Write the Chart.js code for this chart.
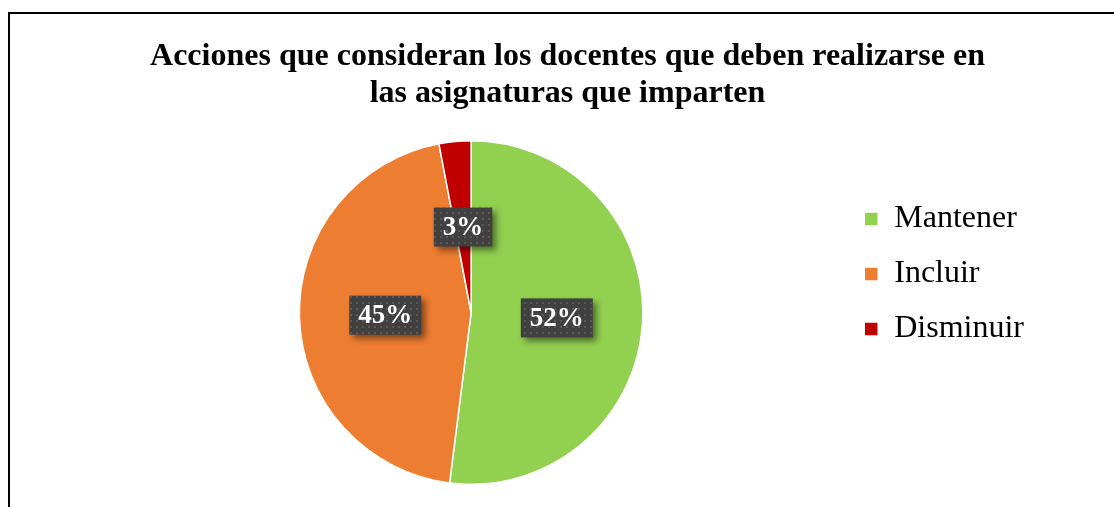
<!DOCTYPE html>
<html>
<head>
<meta charset="utf-8">
<script src="https://cdn.jsdelivr.net/npm/chart.js@4"></script>
<style>
    body { margin: 0; background: #fff; }
    #marco {
        position: absolute;
        left: 8px;
        top: 12px;
        width: 1200px;
        height: 600px;
        border-left: 2px solid #000;
        border-top: 2px solid #000;
    }
    #lienzo { position: absolute; left: 0; top: 0; }
</style>
</head>
<body>
<div id="marco"></div>
<canvas id="lienzo" width="1114" height="507"></canvas>
<script>
const categorias = ["Mantener", "Incluir", "Disminuir"];
const valores = [52, 45, 3];
const etiquetas = ["52%", "45%", "3%"];
const colores = ["#92D050", "#ED7D31", "#C00000"];
const titulo = ["Acciones que consideran los docentes que deben realizarse en", "las asignaturas que imparten"];

// trama de puntos para el fondo de las etiquetas
function trama(ctx) {
    const c = document.createElement("canvas");
    c.width = 6;
    c.height = 6;
    const t = c.getContext("2d");
    t.fillStyle = "#404040";
    t.fillRect(0, 0, 6, 6);
    t.fillStyle = "#595959";
    t.fillRect(2, 2, 2, 2);
    return ctx.createPattern(c, "repeat");
}

const etiquetasPlugin = {
    id: "etiquetas",
    afterDatasetsDraw(chart) {
        const ctx = chart.ctx;
        const arcos = chart.getDatasetMeta(0).data;
        const relleno = trama(ctx);
        ctx.save();
        ctx.font = "bold 27px 'Liberation Serif'";
        ctx.textAlign = "center";
        ctx.textBaseline = "middle";
        arcos.forEach(function (arco, i) {
            const p = arco.tooltipPosition();
            const w = ctx.measureText(etiquetas[i]).width + 18;
            const h = 39;
            ctx.save();
            ctx.shadowColor = "rgba(0,0,0,0.45)";
            ctx.shadowBlur = 6;
            ctx.shadowOffsetX = 4;
            ctx.shadowOffsetY = 4;
            ctx.fillStyle = relleno;
            ctx.fillRect(p.x - w / 2, p.y - h / 2, w, h);
            ctx.restore();
            ctx.fillStyle = "#fff";
            ctx.fillText(etiquetas[i], p.x, p.y + 1);
        });
        ctx.restore();
    },
};

const ctx = document.getElementById("lienzo").getContext("2d");
new Chart(ctx, {
    type: "pie",
    data: {
        labels: categorias,
        datasets: [
            {
                data: valores,
                backgroundColor: colores,
                borderColor: "#fff",
                borderWidth: 1.5,
            },
        ],
    },
    options: {
        responsive: false,
        animation: false,
        layout: {
            padding: { left: 101, right: 80, top: 0, bottom: 22 },
        },
        plugins: {
            title: {
                display: true,
                text: titulo,
                color: "#000",
                font: { family: "'Liberation Serif'", size: 32, weight: "bold", lineHeight: "37px" },
                padding: { top: 38, bottom: 28 },
            },
            legend: {
                position: "right",
                align: "start",
                fullSize: false,
                title: {
                    display: true,
                    text: " ",
                    color: "rgba(0,0,0,0)",
                    font: { size: 20, lineHeight: "24px" },
                    padding: { top: 16, bottom: 0 },
                },
                labels: {
                    color: "#000",
                    font: { family: "'Liberation Serif'", size: 32 },
                    boxWidth: 14,
                    boxHeight: 14,
                    padding: 23,
                },
            },
            tooltip: { enabled: false },
        },
    },
    plugins: [etiquetasPlugin],
});
</script>
</body>
</html>
